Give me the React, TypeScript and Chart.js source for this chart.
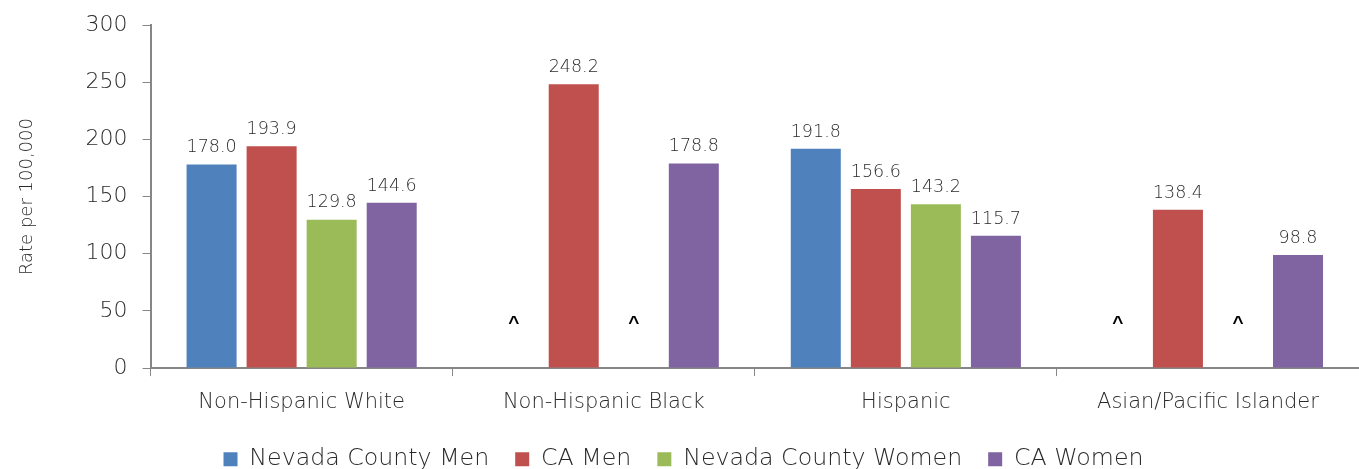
import React, { useEffect, useRef } from "react";
import { Chart, registerables } from "chart.js";

Chart.register(...registerables);

const categories = ["Non-Hispanic White", "Non-Hispanic Black", "Hispanic", "Asian/Pacific Islander"];
const seriesNames = ["Nevada County Men", "CA Men", "Nevada County Women", "CA Women"];
const ncMen: (number | null)[] = [178.0, null, 191.8, null];
const caMen: (number | null)[] = [193.9, 248.2, 156.6, 138.4];
const ncWomen: (number | null)[] = [129.8, null, 143.2, null];
const caWomen: (number | null)[] = [144.6, 178.8, 115.7, 98.8];
const colors = ["#4F81BD", "#C0504D", "#9BBB59", "#8064A2"];
const yTicks = [0, 50, 100, 150, 200, 250, 300];
const suppressedMark = "^";

const FONT = "'DejaVu Sans', sans-serif";
const W = 200;
const TEXT = "#2a2a2a";
const AXIS = "#868686";

const labelPlugin = {
  id: "barLabels",
  afterDatasetsDraw(chart: any) {
    const ctx = chart.ctx;
    const yScale = chart.scales.y;
    ctx.save();
    chart.data.datasets.forEach((ds: any, di: number) => {
      const meta = chart.getDatasetMeta(di);
      meta.data.forEach((bar: any, i: number) => {
        const v = ds.data[i];
        ctx.textAlign = "center";
        if (v === null || v === undefined) {
          ctx.font = `bold 19px 'Liberation Sans', sans-serif`;
          ctx.fillStyle = "#000";
          ctx.textBaseline = "middle";
          ctx.fillText(suppressedMark, bar.x, yScale.getPixelForValue(0) - 44);
        } else {
          ctx.font = `${W} 17.5px ${FONT}`;
          ctx.fillStyle = TEXT;
          ctx.textBaseline = "bottom";
          ctx.fillText(v.toFixed(1), bar.x, bar.y - 8);
        }
      });
    });
    ctx.restore();
  },
};

export default function App() {
  const ref = useRef<HTMLCanvasElement>(null);
  useEffect(() => {
    document.body.style.margin = "0";
    const allSeries = [ncMen, caMen, ncWomen, caWomen];
    const chart = new Chart(ref.current!, {
      type: "bar",
      data: {
        labels: categories,
        datasets: allSeries.map((d, i) => ({
          label: seriesNames[i],
          data: d,
          backgroundColor: colors[i],
          borderWidth: 0,
          categoryPercentage: 0.795,
          barPercentage: 0.833,
        })),
      },
      options: {
        animation: false,
        responsive: false,
        maintainAspectRatio: false,
        layout: { padding: { top: 25, right: 0, left: 8, bottom: -12 } },
        plugins: {
          tooltip: { enabled: false },
          legend: {
            position: "bottom",
            labels: {
              boxWidth: 14,
              boxHeight: 14,
              padding: 26,
              color: TEXT,
              font: { family: FONT, size: 23.7, weight: W },
            },
          },
        },
        scales: {
          x: {
            offset: true,
            afterFit: (axis: any) => {
              axis.height -= 8;
            },
            grid: {
              offset: true,
              drawOnChartArea: false,
              drawTicks: true,
              tickLength: 8,
              color: AXIS,
            },
            border: { color: AXIS, width: 2 },
            ticks: { color: TEXT, font: { family: FONT, size: 21, weight: W }, padding: 14 },
          },
          y: {
            min: 0,
            max: 300,
            afterBuildTicks: (axis: any) => {
              axis.ticks = yTicks.map((v) => ({ value: v }));
            },
            afterFit: (axis: any) => {
              axis.paddingTop = 0;
            },
            grid: {
              drawOnChartArea: false,
              drawTicks: true,
              tickLength: 8,
              color: AXIS,
            },
            border: { color: AXIS, width: 2 },
            ticks: { color: TEXT, font: { family: FONT, size: 22, weight: W }, padding: 15 },
            title: {
              display: true,
              text: "Rate per 100,000",
              color: TEXT,
              font: { family: FONT, size: 18, weight: W },
              padding: { top: 9, bottom: 32 },
            },
          },
        },
      },
      plugins: [labelPlugin],
    });
    return () => chart.destroy();
  }, []);
  return (
    <div style={{ width: 1359, height: 469 }}>
      <canvas ref={ref} width={1359} height={469} style={{ width: 1359, height: 469 }} />
    </div>
  );
}
